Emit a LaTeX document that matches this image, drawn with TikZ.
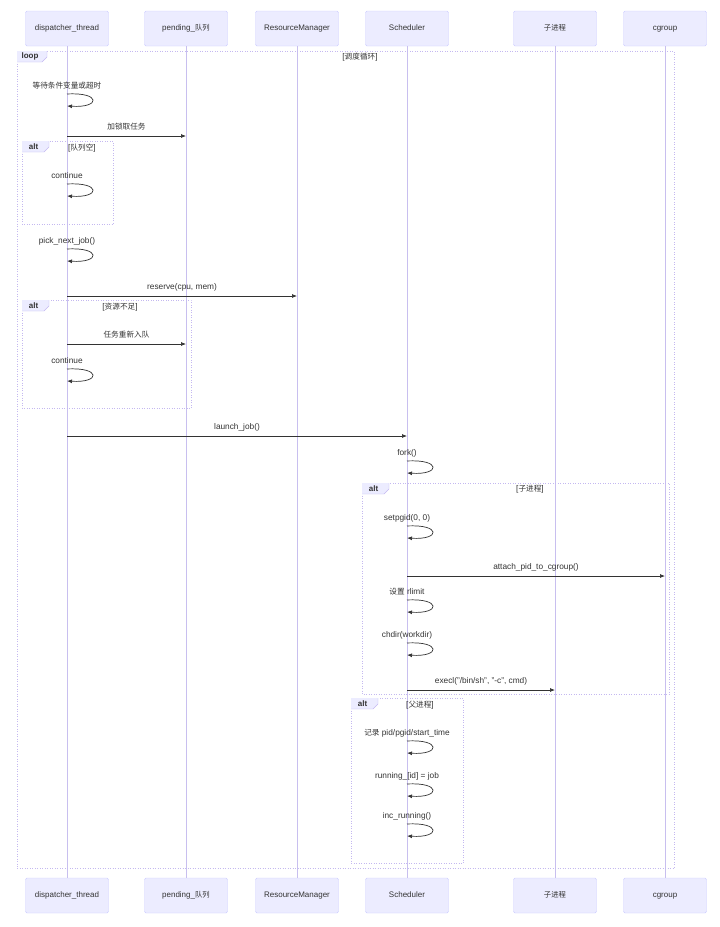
\documentclass[tikz,border=0pt]{standalone}
\usepackage{fontspec}
\setmainfont{Liberation Sans}
\newfontfamily\cjk{Noto Sans CJK SC}[Scale=0.92]
\usetikzlibrary{arrows.meta}
\definecolor{pfill}{HTML}{ECECFF}
\definecolor{pline}{HTML}{CCCCFF}
\definecolor{lline}{HTML}{C8BFEF}
\definecolor{fline}{HTML}{C4B8F0}
\definecolor{txt}{HTML}{333333}
\begin{document}
\begin{tikzpicture}[x=1pt,y=-1pt,
  part/.style={draw=pline,fill=pfill,rounded corners=1.5pt,minimum width=83pt,minimum height=35pt,text height=6pt,text depth=1.5pt,font=\fontsize{8}{9}\selectfont,text=txt},
  life/.style={draw=lline,line width=0.7pt},
  frame/.style={draw=fline,dotted,line width=0.5pt},
  lbl/.style={font=\fontsize{8.3}{9}\selectfont,text=txt,inner sep=0pt},
  msg/.style={draw=txt,line width=0.7pt,-{Latex[length=5pt,width=4pt]}},
  tagt/.style={font=\bfseries\fontsize{8}{9}\selectfont,text=txt,inner sep=0pt}]
\useasboundingbox (0,0) rectangle (720,927);
\foreach \n/\x/\t in {d/67/dispatcher\_thread,p/186/pending\_{\cjk 队列},r/297/ResourceManager,s/407/Scheduler,c/555/{\cjk 子进程},g/665/cgroup}{
  \node[part] (\n t) at (\x,28.5) {\t};
  \node[part] (\n b) at (\x,895.5) {\t};
  \draw[life] (\n t.south) -- (\n b.north);
}
\newcommand{\myframe}[6]{%
  \draw[frame] (#1,#2) rectangle (#3,#4);
  \fill[pfill] (#1,#2) -- (#1+#6,#2) -- (#1+#6,#2+6) -- (#1+#6-5,#2+11) -- (#1,#2+11) -- cycle;
  \draw[fline,line width=0.4pt] (#1+#6,#2) -- (#1+#6,#2+6) -- (#1+#6-5,#2+11) -- (#1,#2+11);
  \node[tagt] at (#1+#6/2-2,#2+5.5) {#5};}
\myframe{17}{51}{674}{868}{loop}{30}
\node[lbl] (f1) at (360,57) {[{\cjk 调度循环}]};
\myframe{22}{141}{113}{224}{alt}{27}
\node[lbl] (f2) at (82,148) {[{\cjk 队列空}]};
\myframe{22}{300}{191}{408}{alt}{27}
\node[lbl] (f3) at (120,307) {[{\cjk 资源不足}]};
\myframe{362}{483}{669}{694}{alt}{27}
\node[lbl] (f4) at (530,489) {[{\cjk 子进程}]};
\myframe{351}{698}{463}{863}{alt}{27}
\node[lbl] (f5) at (420,705) {[{\cjk 父进程}]};
\newcommand{\selfmsg}[4]{%
  \node[lbl] (#1) at (#2,#3) {#4};
  \coordinate (#1a) at (#2,#3+8);
  \coordinate (#1b) at (#2,#3+20);
  \draw[msg] (#1a) .. controls (#2+34,#3+6) and (#2+34,#3+22) .. (#1b);}
\selfmsg{m1}{67}{86}{{\cjk 等待条件变量或超时}}
\selfmsg{m2}{67}{176}{continue}
\selfmsg{m3}{67}{241}{pick\_next\_job()}
\selfmsg{m4}{67}{361}{continue}
\selfmsg{m5}{407}{453}{fork()}
\selfmsg{m6}{407}{518}{setpgid(0, 0)}
\selfmsg{m7}{407}{592}{{\cjk 设置} rlimit}
\selfmsg{m8}{407}{635}{chdir(workdir)}
\selfmsg{m9}{407}{733}{{\cjk 记录} pid/pgid/start\_time}
\selfmsg{m10}{407}{776}{running\_[id] = job}
\selfmsg{m11}{407}{816}{inc\_running()}
\newcommand{\amsg}[5]{%
  \coordinate (#1a) at (#2,#4);
  \coordinate (#1b) at (#3,#4);
  \node[lbl] (#1) at ({(#2+#3)/2},#4-9) {#5};
  \draw[msg] (#1a) -- (#1b);}
\amsg{a1}{67}{186}{136}{{\cjk 加锁取任务}}
\amsg{a2}{67}{297}{296}{reserve(cpu, mem)}
\amsg{a3}{67}{186}{344}{{\cjk 任务重新入队}}
\amsg{a4}{67}{407}{436}{launch\_job()}
\amsg{a5}{407}{665}{576}{attach\_pid\_to\_cgroup()}
\amsg{a6}{407}{555}{690}{execl("/bin/sh", "-c", cmd)}
\end{tikzpicture}
\end{document}
